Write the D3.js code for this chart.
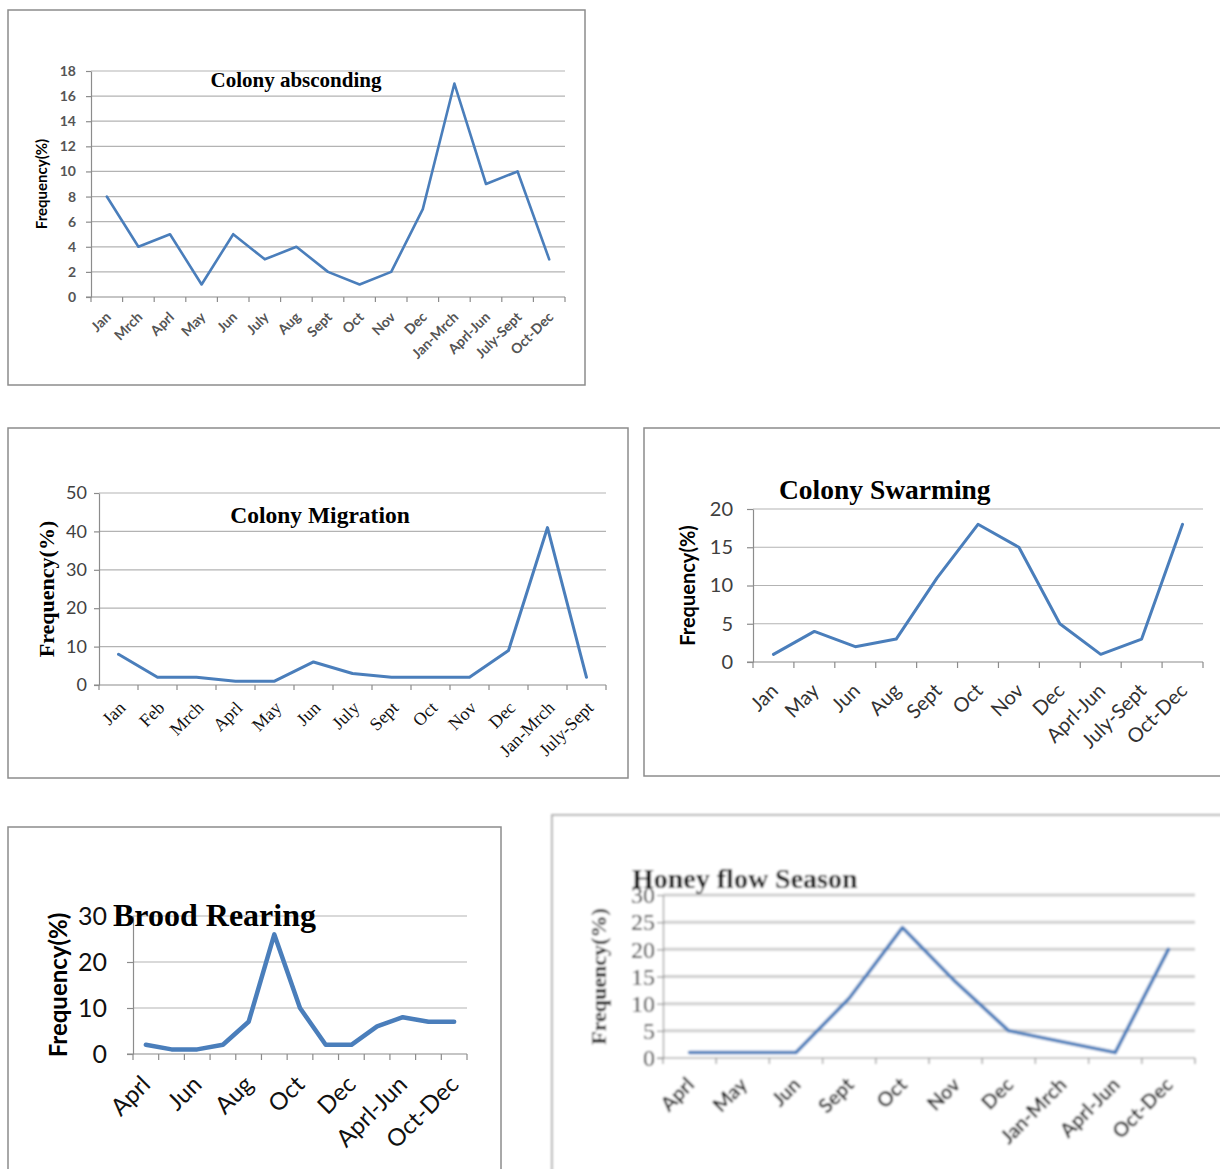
<!DOCTYPE html>
<html>
<head>
<meta charset="utf-8">
<script src="https://cdn.jsdelivr.net/npm/d3@7"></script>
<style>
  html, body { margin: 0; padding: 0; background: #fff; }
  svg { display: block; }
</style>
</head>
<body>
<svg id="chart" width="1220" height="1169"></svg>
<script>
// ---- Colony absconding ----
const abscondingMonths = ["Jan","Mrch","Aprl","May","Jun","July","Aug","Sept","Oct","Nov","Dec","Jan-Mrch","Aprl-Jun","July-Sept","Oct-Dec"];
const abscondingValues = [8,4,5,1,5,3,4,2,1,2,7,17,9,10,3];
const abscondingTicks = [0,2,4,6,8,10,12,14,16,18];

// ---- Colony Migration ----
const migrationMonths = ["Jan","Feb","Mrch","Aprl","May","Jun","July","Sept","Oct","Nov","Dec","Jan-Mrch","July-Sept"];
const migrationValues = [8,2,2,1,1,6,3,2,2,2,9,41,2];
const migrationTicks = [0,10,20,30,40,50];

// ---- Colony Swarming ----
const swarmingMonths = ["Jan","May","Jun","Aug","Sept","Oct","Nov","Dec","Aprl-Jun","July-Sept","Oct-Dec"];
const swarmingValues = [1,4,2,3,11,18,15,5,1,3,18];
const swarmingTicks = [0,5,10,15,20];

// ---- Brood Rearing ----
const broodMonths = ["Aprl","May","Jun","July","Aug","Sept","Oct","Nov","Dec","Jan-Mrch","Aprl-Jun","July-Sept","Oct-Dec"];
const broodValues = [2,1,1,2,7,26,10,2,2,6,8,7,7];
const broodTicks = [0,10,20,30];

// ---- Honey flow Season ----
const honeyMonths = ["Aprl","May","Jun","Sept","Oct","Nov","Dec","Jan-Mrch","Aprl-Jun","Oct-Dec"];
const honeyValues = [1,1,1,11,24,14,5,3,1,20];
const honeyTicks = [0,5,10,15,20,25,30];

const svg = d3.select("#chart");
const SANS = "Lato, 'Open Sans', sans-serif";
const SERIF = "'Liberation Serif', 'Times New Roman', serif";
const LINE = "#4a7ebb";

const defs = svg.append("defs");
defs.append("filter").attr("id", "soft")
  .attr("filterUnits", "userSpaceOnUse")
  .attr("x", 540).attr("y", 800).attr("width", 700).attr("height", 380)
  .append("feGaussianBlur").attr("stdDeviation", 1.2);

function panel(cfg) {
  const g = svg.append("g");
  if (cfg.blur) g.attr("filter", "url(#soft)");

  // chart frame
  g.append("rect")
    .attr("x", cfg.frame[0]).attr("y", cfg.frame[1])
    .attr("width", cfg.frame[2]).attr("height", cfg.frame[3])
    .attr("fill", "#fff").attr("stroke", cfg.frameColor || "#8c8c8c").attr("stroke-width", 1.5);

  const x = d3.scaleBand().domain(cfg.cats).range([cfg.x0, cfg.x1]);
  const y = d3.scaleLinear().domain([0, cfg.max]).range([cfg.yBottom, cfg.yTop]);

  // horizontal gridlines
  g.append("g").selectAll("line").data(cfg.ticks.filter(t => t > 0)).join("line")
    .attr("x1", cfg.x0).attr("x2", cfg.x1)
    .attr("y1", d => y(d)).attr("y2", d => y(d))
    .attr("stroke", cfg.gridColor || "#b3b3b3").attr("stroke-width", cfg.gridWidth || 1.2);

  // y axis
  const yAxis = g.append("g").attr("transform", `translate(${cfg.x0},0)`)
    .call(d3.axisLeft(y).tickValues(cfg.ticks).tickSize(cfg.tickLen).tickPadding(cfg.yPad).tickSizeOuter(0));
  yAxis.select(".domain").attr("stroke", "#8c8c8c").attr("stroke-width", 1.2);
  yAxis.selectAll(".tick line").attr("stroke", "#8c8c8c").attr("stroke-width", 1.2);
  yAxis.selectAll(".tick text")
    .attr("font-family", cfg.yFont).attr("font-size", cfg.yFontSize)
    .attr("font-weight", cfg.yWeight || "normal")
    .attr("fill", cfg.yColor || "#404040");

  // x axis with tick marks between categories
  const xAxis = g.append("g").attr("transform", `translate(0,${cfg.yBottom})`);
  xAxis.append("line").attr("x1", cfg.x0 - cfg.tickLen).attr("x2", cfg.x1)
    .attr("stroke", "#8c8c8c").attr("stroke-width", 1.2);
  const bounds = cfg.cats.map(c => x(c)).concat([x(cfg.cats[cfg.cats.length - 1]) + x.bandwidth()]);
  xAxis.selectAll("line.tk").data(bounds).join("line").attr("class", "tk")
    .attr("x1", d => d).attr("x2", d => d).attr("y1", 0).attr("y2", cfg.tickLen)
    .attr("stroke", "#8c8c8c").attr("stroke-width", 1.2);

  // rotated category labels
  const step = cfg.labelStep || 1;
  const labelDy = cfg.xLabelY - cfg.yBottom;
  xAxis.selectAll("text.cat").data(cfg.cats.filter((c, i) => i % step === 0)).join("text")
    .attr("class", "cat")
    .attr("transform", d => `translate(${x(d) + x.bandwidth() / 2 + cfg.xShift},${labelDy}) rotate(-45)`)
    .attr("text-anchor", "end")
    .attr("font-family", cfg.xFont).attr("font-size", cfg.xFontSize)
    .attr("font-weight", cfg.xWeight || "normal")
    .attr("fill", cfg.xColor || "#404040")
    .text(d => d);

  // data line
  const line = d3.line().x((d, i) => x(cfg.cats[i]) + x.bandwidth() / 2).y(d => y(d));
  g.append("path").datum(cfg.values)
    .attr("d", line).attr("fill", "none")
    .attr("stroke", LINE).attr("stroke-width", cfg.lineWidth)
    .attr("stroke-linejoin", "round").attr("stroke-linecap", "round");

  // y-axis title
  g.append("text")
    .attr("transform", `translate(${cfg.yTitleX},${(cfg.yTop + cfg.yBottom) / 2}) rotate(-90)`)
    .attr("text-anchor", "middle")
    .attr("font-family", cfg.yTitleFont).attr("font-size", cfg.yTitleSize).attr("font-weight", "bold")
    .attr("fill", "#000")
    .text("Frequency(%)");

  // chart title
  g.append("text")
    .attr("x", cfg.titleX).attr("y", cfg.titleY)
    .attr("text-anchor", cfg.titleAnchor)
    .attr("font-family", SERIF).attr("font-size", cfg.titleSize).attr("font-weight", "bold")
    .attr("fill", "#000")
    .text(cfg.title);
}

panel({
  title: "Colony absconding", cats: abscondingMonths, values: abscondingValues, ticks: abscondingTicks, max: 18,
  frame: [8, 10, 577, 375], x0: 91, x1: 565, yTop: 71, yBottom: 297,
  tickLen: 5, yPad: 10, yFont: SANS, yFontSize: 14, xFont: SANS, xFontSize: 14, xWeight: "bold", xColor: "#555",
  yWeight: "bold", yColor: "#555",
  xLabelY: 318, xShift: 5, lineWidth: 2.6,
  yTitleX: 47, yTitleFont: SANS, yTitleSize: 15,
  titleX: 296, titleY: 87, titleAnchor: "middle", titleSize: 21
});

panel({
  title: "Colony Migration", cats: migrationMonths, values: migrationValues, ticks: migrationTicks, max: 50,
  frame: [8, 428, 620, 350], x0: 99, x1: 606, yTop: 493, yBottom: 685,
  tickLen: 5, yPad: 7, yFont: SANS, yFontSize: 18, xFont: SERIF, xFontSize: 18, xColor: "#111",
  xLabelY: 709, xShift: 8, lineWidth: 3,
  yTitleX: 54, yTitleFont: SERIF, yTitleSize: 22,
  titleX: 320, titleY: 523, titleAnchor: "middle", titleSize: 23.5
});

panel({
  title: "Colony Swarming", cats: swarmingMonths, values: swarmingValues, ticks: swarmingTicks, max: 20,
  frame: [644, 428, 590, 348], x0: 753, x1: 1203, yTop: 509, yBottom: 662,
  tickLen: 6, yPad: 14, yFont: SANS, yFontSize: 20, xFont: SANS, xFontSize: 20, xColor: "#333",
  xLabelY: 692, xShift: 6, lineWidth: 3,
  yTitleX: 695, yTitleFont: SANS, yTitleSize: 20,
  titleX: 779, titleY: 499, titleAnchor: "start", titleSize: 27.5
});

panel({
  title: "Brood Rearing", cats: broodMonths, values: broodValues, ticks: broodTicks, max: 30,
  frame: [8, 827, 493, 360], x0: 133, x1: 467, yTop: 916, yBottom: 1054,
  tickLen: 6, yPad: 20, yFont: SANS, yFontSize: 25, yColor: "#111", xFont: SANS, xFontSize: 24, xColor: "#111",
  xLabelY: 1086, xShift: 6, lineWidth: 4.5, labelStep: 2,
  yTitleX: 67, yTitleFont: SANS, yTitleSize: 24,
  titleX: 113, titleY: 926, titleAnchor: "start", titleSize: 32
});

panel({
  title: "Honey flow Season", cats: honeyMonths, values: honeyValues, ticks: honeyTicks, max: 30,
  frame: [552, 815, 690, 370], frameColor: "#999", x0: 663, x1: 1195, yTop: 895, yBottom: 1058,
  tickLen: 6, yPad: 2, yFont: SERIF, yFontSize: 24, yColor: "#222", xFont: SANS, xFontSize: 20, xWeight: "bold", xColor: "#222",
  xLabelY: 1086, xShift: 6, lineWidth: 3.6, gridColor: "#cfcfcf", gridWidth: 3,
  yTitleX: 606, yTitleFont: SERIF, yTitleSize: 22,
  titleX: 632, titleY: 888, titleAnchor: "start", titleSize: 28, blur: true
});
</script>
</body>
</html>
